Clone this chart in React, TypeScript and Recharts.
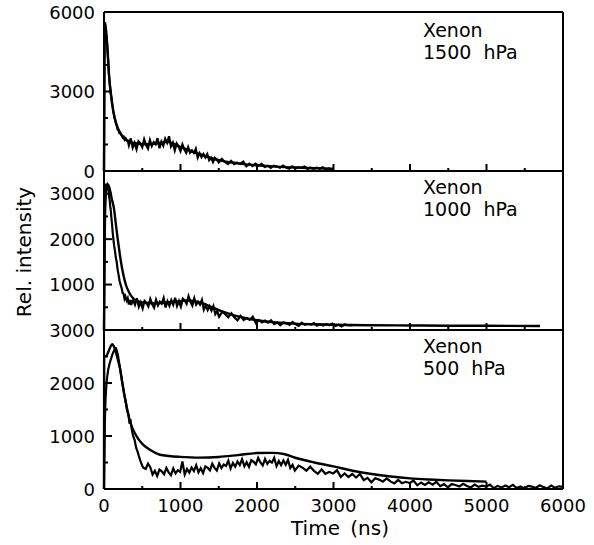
import React from 'react';
import { LineChart, Line, XAxis, YAxis } from 'recharts';

type Pair = [number, number];

const FONT = "'DejaVu Sans', sans-serif";

// shared time axis (ns)
const timeTicks = [0, 500, 1000, 1500, 2000, 2500, 3000, 3500, 4000, 4500, 5000, 5500, 6000];
const timeMajor = [0, 1000, 2000, 3000, 4000, 5000, 6000];

// y axes of the three panels
const p1500Ticks = [0, 1000, 2000, 3000, 4000, 5000, 6000];
const p1500Labels = [0, 3000, 6000];
const p1500Major = [3000];

const p1000Ticks = [0, 500, 1000, 1500, 2000, 2500, 3000, 3500];
const p1000Labels = [1000, 2000, 3000];
const p1000Major = [1000, 2000, 3000];

const p500Ticks = [0, 500, 1000, 1500, 2000, 2500, 3000];
const p500Labels = [0, 1000, 2000, 3000];
const p500Major = [1000, 2000];

// Xenon 1500 hPa
const xe1500Measured: Pair[] = [
  [0, 0], [4, 3000], [8, 5400], [13, 5620], [20, 5450], [28, 5150], [36, 4950], [43, 4740], [50, 4350], [56, 4100],
  [63, 3700], [69, 3480], [75, 3300], [80, 3150], [86, 2950], [92, 2855], [100, 2700], [107, 2520], [115, 2400],
  [122, 2226], [130, 2150], [138, 1990], [145, 1950], [155, 1800], [166, 1723], [178, 1560], [190, 1540], [200, 1430],
  [215, 1420], [231, 1346], [245, 1260], [258, 1290], [270, 1180], [283, 1230], [296, 1157],
  [310, 1150], [325, 970], [350, 1230], [375, 880], [400, 1060], [425, 820], [450, 1120], [475, 1040], [500, 900],
  [525, 1200], [550, 990], [575, 850], [600, 1170], [625, 940], [650, 1090], [675, 1010], [700, 1240], [725, 860],
  [750, 1110], [775, 950], [800, 1220], [825, 1060], [850, 1310], [875, 930], [900, 1070], [925, 780], [950, 1040],
  [975, 920], [1000, 750], [1025, 1000], [1050, 813], [1075, 686], [1100, 902], [1125, 688], [1150, 778], [1175, 684],
  [1200, 838], [1225, 504], [1250, 674], [1275, 524], [1300, 642], [1325, 509], [1350, 640], [1375, 410], [1400, 498],
  [1425, 334], [1450, 494], [1475, 426], [1500, 322], [1540, 456], [1580, 342], [1620, 259], [1660, 383], [1700, 260],
  [1740, 315], [1780, 267], [1820, 358], [1860, 176], [1900, 276], [1940, 182], [1980, 278], [2020, 198], [2060, 268],
  [2100, 155], [2140, 201], [2180, 121], [2220, 203], [2260, 171], [2300, 121], [2340, 205], [2380, 136], [2420, 88],
  [2460, 178], [2500, 103], [2540, 140], [2580, 118], [2620, 165], [2660, 76], [2700, 128], [2740, 81], [2780, 129],
  [2820, 85], [2860, 140], [2900, 58], [2940, 97], [2980, 41], [3000, 90],
];
const xe1500Fit: Pair[] = [
  [0, 0], [5, 4200], [12, 5550], [25, 5350], [43, 4700], [69, 3500], [92, 2870], [122, 2240], [166, 1730], [231, 1350],
  [296, 1160], [350, 1080], [450, 1030], [550, 1010], [650, 1030], [750, 1070], [820, 1100], [900, 1040], [1000, 900],
  [1081, 820], [1200, 680], [1300, 590], [1400, 490], [1500, 410], [1650, 330], [1800, 270], [2000, 215], [2250, 165],
  [2500, 130], [2750, 105], [3000, 90],
];

// Xenon 1000 hPa
const xe1000Measured: Pair[] = [
  [0, 0], [5, 1500], [12, 2700], [20, 3100], [28, 3220], [36, 3180], [43, 3200], [52, 3100], [60, 3050], [68, 2920],
  [75, 2850], [81, 2720], [87, 2665], [96, 2480], [105, 2330], [113, 2160], [122, 2008], [133, 1850], [145, 1720],
  [155, 1590], [166, 1496], [178, 1330], [190, 1220], [204, 1080], [218, 985], [230, 930], [242, 820], [255, 800],
  [268, 690], [280, 740], [296, 650], [310, 700], [325, 560], [340, 660], [355, 550], [370, 640],
  [380, 656], [405, 557], [430, 700], [455, 507], [480, 607], [505, 475], [530, 640], [555, 596], [580, 518],
  [605, 684], [630, 568], [655, 491], [680, 667], [705, 540], [730, 623], [755, 579], [780, 706], [805, 497],
  [830, 634], [855, 530], [880, 656], [905, 557], [930, 710], [955, 527], [980, 637], [1005, 514], [1030, 690],
  [1055, 651], [1080, 576], [1105, 744], [1130, 623], [1155, 539], [1180, 702], [1205, 558], [1230, 623], [1255, 557],
  [1280, 662], [1305, 450], [1330, 544], [1355, 438], [1380, 524], [1405, 425], [1430, 526], [1455, 350], [1480, 416],
  [1505, 293], [1545, 397], [1585, 349], [1625, 280], [1665, 366], [1705, 276], [1745, 212], [1785, 311], [1825, 218],
  [1865, 261], [1905, 221], [1945, 292], [1985, 149], [2025, 216], [2065, 165], [2105, 209], [2145, 162], [2185, 213],
  [2225, 128], [2265, 164], [2305, 105], [2345, 168], [2385, 146], [2425, 111], [2465, 175], [2505, 125], [2545, 91],
  [2585, 160], [2625, 113], [2665, 133], [2705, 119], [2745, 152], [2785, 93], [2825, 128], [2865, 99], [2905, 132],
  [2945, 104], [2985, 142], [3025, 89], [3065, 115], [3105, 78], [3145, 122], [3185, 109], [3250, 100],
];
const xe1000Fit: Pair[] = [
  [0, 0], [8, 1800], [20, 2900], [35, 3180], [55, 3200], [75, 3100], [100, 2900], [131, 2665], [155, 2330], [179, 2008],
  [200, 1750], [222, 1496], [255, 1200], [288, 985], [330, 820], [383, 694], [450, 630], [520, 600], [650, 590],
  [800, 600], [950, 630], [1100, 650], [1200, 630], [1300, 580], [1400, 510], [1500, 440], [1650, 350], [1800, 280],
  [2000, 215], [2250, 165], [2500, 140], [2750, 125], [3000, 115], [3500, 105], [4000, 100], [4500, 95], [5000, 92],
  [5700, 88],
];

// Xenon 500 hPa
const xe500Measured: Pair[] = [
  [0, 0], [6, 600], [12, 1300], [20, 1700], [30, 1950], [40, 2100], [55, 2250], [70, 2350], [90, 2450], [110, 2540],
  [130, 2610], [145, 2650], [157, 2655], [170, 2600], [185, 2500], [200, 2360], [209, 2280], [225, 2130], [244, 1960],
  [262, 1800], [283, 1650], [300, 1500], [320, 1400], [335, 1230], [345, 1320], [360, 1150], [380, 1000], [400, 930],
  [420, 780], [440, 700], [460, 600], [480, 510], [500, 440],
  [514, 400], [545, 378], [575, 480], [605, 410], [635, 270], [665, 342], [695, 246], [725, 366], [755, 334],
  [785, 278], [815, 398], [845, 314], [875, 258], [905, 386], [935, 294], [965, 354], [995, 322], [1025, 520],
  [1055, 272], [1085, 378], [1115, 308], [1145, 406], [1175, 339], [1205, 449], [1235, 315], [1265, 392], [1295, 302],
  [1325, 428], [1355, 401], [1385, 351], [1415, 477], [1445, 399], [1475, 348], [1505, 482], [1535, 396], [1565, 461],
  [1595, 435], [1625, 533], [1655, 386], [1685, 492], [1715, 422], [1745, 520], [1775, 453], [1805, 563], [1835, 429],
  [1865, 506], [1895, 416], [1925, 542], [1955, 515], [1985, 465], [2015, 587], [2045, 501], [2075, 443], [2105, 568],
  [2135, 474], [2165, 531], [2195, 497], [2225, 586], [2255, 432], [2285, 529], [2315, 450], [2345, 538], [2375, 456],
  [2405, 548], [2435, 396], [2465, 456], [2495, 348], [2545, 442], [2595, 403], [2645, 346], [2695, 421], [2745, 343],
  [2795, 286], [2845, 368], [2895, 286], [2945, 323], [2995, 294], [3045, 353], [3095, 228], [3145, 292], [3195, 224],
  [3245, 282], [3295, 217], [3345, 284], [3395, 167], [3445, 210], [3495, 127], [3545, 202], [3595, 177], [3645, 139],
  [3695, 198], [3745, 143], [3795, 105], [3845, 170], [3895, 110], [3945, 136], [3995, 111], [4045, 159], [4095, 70],
  [4145, 123], [4195, 76], [4245, 125], [4295, 81], [4345, 136], [4395, 53], [4445, 91], [4495, 33], [4545, 93],
  [4595, 76], [4645, 48], [4695, 98], [4745, 58], [4795, 30], [4845, 84], [4895, 40], [4945, 64], [4995, 47],
  [5045, 82], [5095, 15], [5145, 59], [5195, 26], [5245, 66], [5295, 34], [5345, 79], [5395, 18], [5445, 48],
  [5495, 6], [5545, 59], [5595, 44], [5645, 19], [5695, 71], [5745, 35], [5795, 10], [5845, 66], [5895, 25],
  [5945, 51], [6000, 40],
];
const xe500Fit: Pair[] = [
  [0, 0], [2, 2497], [30, 2510], [60, 2600], [90, 2700], [109, 2730], [130, 2690], [160, 2560], [185, 2420],
  [209, 2280], [244, 1964], [283, 1650], [340, 1273], [400, 1060], [450, 940], [514, 834], [600, 740], [732, 646],
  [850, 622], [993, 606], [1250, 592], [1500, 605], [1750, 640], [2000, 678], [2200, 682], [2350, 660], [2500, 590],
  [2750, 500], [3000, 426], [3250, 345], [3500, 282], [3750, 235], [4000, 200], [4250, 178], [4500, 162], [4750, 150],
  [5000, 140],
];

const toPts = (a: Pair[]) => a.map(([t, v]) => ({ t, v }));

const xTick = (side: 'bottom' | 'top', labels: boolean) => (props: any) => {
  const { x, y, payload } = props;
  const v = payload.value;
  const major = timeMajor.includes(v);
  const len = major ? 7 : 3;
  const d = side === 'bottom' ? -len : len;
  return (
    <g>
      <line x1={x} x2={x} y1={y} y2={y + d} stroke="#000" strokeWidth={2} />
      {labels && major && (
        <text x={x} y={y + 23} textAnchor="middle" fontSize={18} fontFamily={FONT} fill="#000">
          {v}
        </text>
      )}
    </g>
  );
};

const yTick = (side: 'left' | 'right', labels: number[], major: number[]) => (props: any) => {
  const { x, y, payload } = props;
  const v = payload.value;
  const len = major.includes(v) ? 8 : 4;
  const d = side === 'left' ? len : -len;
  return (
    <g>
      <line x1={x} x2={x + d} y1={y} y2={y} stroke="#000" strokeWidth={2} />
      {side === 'left' && labels.includes(v) && (
        <text x={x - 9} y={y + 6.5} textAnchor="end" fontSize={18} fontFamily={FONT} fill="#000">
          {v}
        </text>
      )}
    </g>
  );
};

type PanelProps = {
  top: number;
  height: number;
  bottom: number;
  yMax: number;
  yTicks: number[];
  yLabels: number[];
  yMajor: number[];
  measured: Pair[];
  fit: Pair[];
  showTime: boolean;
};

const frame = { stroke: '#000', strokeWidth: 2 };

// axes are 1px thick so recharts draws them; margins make up the rest
const Panel = ({ top, height, bottom, yMax, yTicks, yLabels, yMajor, measured, fit, showTime }: PanelProps) => (
  <div style={{ position: 'absolute', left: 0, top }}>
    <LineChart width={594} height={height} margin={{ top: 11, right: 30, bottom: bottom - 1, left: 103 }}>
      <XAxis
        xAxisId="b" type="number" dataKey="t" domain={[0, 6000]} ticks={timeTicks} interval={0}
        height={1} tickSize={0} tickMargin={0} tickLine={false} axisLine={frame} tick={xTick('bottom', showTime)}
      />
      <XAxis
        xAxisId="t" orientation="top" type="number" dataKey="t" domain={[0, 6000]} ticks={timeTicks} interval={0}
        height={1} tickSize={0} tickMargin={0} tickLine={false} axisLine={frame} tick={xTick('top', false)}
      />
      <YAxis
        yAxisId="l" type="number" domain={[0, yMax]} ticks={yTicks} interval={0}
        width={1} tickSize={0} tickMargin={0} tickLine={false} axisLine={frame} tick={yTick('left', yLabels, yMajor)}
      />
      <YAxis
        yAxisId="r" orientation="right" type="number" domain={[0, yMax]} ticks={yTicks} interval={0}
        width={1} tickSize={0} tickMargin={0} tickLine={false} axisLine={frame} tick={yTick('right', yLabels, yMajor)}
      />
      <Line
        xAxisId="b" yAxisId="l" data={toPts(fit)} dataKey="v" type="monotone"
        stroke="#000" strokeWidth={2.4} dot={false} isAnimationActive={false}
      />
      <Line
        xAxisId="b" yAxisId="l" data={toPts(measured)} dataKey="v" type="linear"
        stroke="#000" strokeWidth={2.2} dot={false} isAnimationActive={false}
      />
    </LineChart>
  </div>
);

const tag: React.CSSProperties = {
  position: 'absolute',
  left: 423,
  fontFamily: FONT,
  fontSize: 19,
  lineHeight: '22px',
  whiteSpace: 'pre',
  color: '#000',
};

export default function App() {
  return (
    <div style={{ position: 'absolute', left: 0, top: 0, width: 594, height: 545, background: '#fff', fontFamily: FONT }}>
      <Panel top={0} height={183} bottom={12} yMax={6000} yTicks={p1500Ticks} yLabels={p1500Labels}
        yMajor={p1500Major} measured={xe1500Measured} fit={xe1500Fit} showTime={false} />
      <Panel top={159} height={183} bottom={12} yMax={3500} yTicks={p1000Ticks} yLabels={p1000Labels}
        yMajor={p1000Major} measured={xe1000Measured} fit={xe1000Fit} showTime={false} />
      <Panel top={318} height={227} bottom={56} yMax={3000} yTicks={p500Ticks} yLabels={p500Labels}
        yMajor={p500Major} measured={xe500Measured} fit={xe500Fit} showTime={true} />

      <div style={{ ...tag, top: 19 }}>{'Xenon\n1500  hPa'}</div>
      <div style={{ ...tag, top: 176 }}>{'Xenon\n1000  hPa'}</div>
      <div style={{ ...tag, top: 335 }}>{'Xenon\n500  hPa'}</div>

      <div
        style={{
          position: 'absolute', left: 24 - 80, top: 252 - 12, width: 160, height: 24, lineHeight: '24px',
          textAlign: 'center', transform: 'rotate(-90deg)', fontSize: 20, color: '#000',
        }}
      >
        Rel. intensity
      </div>
      <div
        style={{
          position: 'absolute', left: 340 - 80, top: 528 - 12, width: 160, height: 24, lineHeight: '24px',
          textAlign: 'center', fontSize: 20, wordSpacing: 4, color: '#000',
        }}
      >
        Time (ns)
      </div>
    </div>
  );
}
